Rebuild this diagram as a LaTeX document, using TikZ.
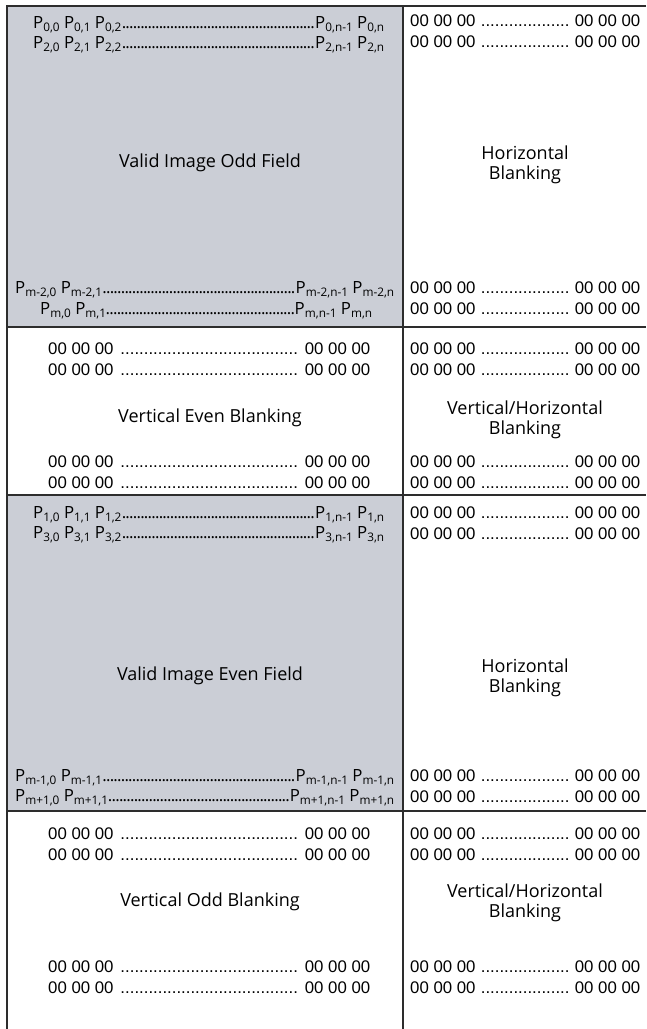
\documentclass[tikz,border=0pt]{standalone}
\usepackage{fontspec}
\setmainfont{Open Sans}
\newfontfamily\arialf{Liberation Sans}
\definecolor{fieldgray}{RGB}{203,206,214}
\definecolor{rulecol}{RGB}{45,45,45}
\newcommand{\Pix}[1]{P\raisebox{-0.42ex}{\fontsize{11.8}{11.8}\selectfont #1}}
\newcommand{\myleaders}{\cleaders\hbox to 3.7pt{\hss.\hss}\hfill}
\newcommand{\zeroleaders}{\cleaders\hbox{.}\hfill}
\newcommand{\leadline}[3]{\hbox to #1{#2\myleaders #3}}
\newcommand{\zeroline}[1]{\hbox to #1{00 00 00 \zeroleaders\ 00 00 00}}
\begin{document}
\begin{tikzpicture}[x=1pt,y=-1pt,
  txt/.style={inner sep=0pt,font=\fontsize{18}{20.5}\selectfont},
  lrow/.style={inner sep=0pt,anchor=base west,font=\fontsize{16.8}{20}\selectfont},
  rrow/.style={inner sep=0pt,anchor=base west,font=\arialf\fontsize{16.8}{20}\selectfont},
  lbl/.style={txt,align=center},
  rule/.style={draw=rulecol,line width=1.2pt}]
\useasboundingbox (0,0) rectangle (646,1029);
\fill[fieldgray] (7,6) rectangle (403,327);
\fill[fieldgray] (7,495) rectangle (403,811);
\draw[rule] (646,6) -- (7,6) -- (7,1029);
\draw[rule] (403,6) -- (403,1029);
\draw[rule] (7,327) -- (646,327);
\draw[rule] (7,495) -- (646,495);
\draw[rule] (7,811) -- (646,811);
% Row 1
\node[lrow] (p0) at (33,28) {\leadline{351pt}{\Pix{0,0} \Pix{0,1} \Pix{0,2}}{\Pix{0,n-1} \Pix{0,n}}};
\node[lrow] (p2) at (33,48) {\leadline{351pt}{\Pix{2,0} \Pix{2,1} \Pix{2,2}}{\Pix{2,n-1} \Pix{2,n}}};
\node[lbl] (oddfield) at (210,163) {Valid Image Odd Field};
\node[lrow] (pm2) at (15,293) {\leadline{379pt}{\Pix{m-2,0} \Pix{m-2,1}}{\Pix{m-2,n-1} \Pix{m-2,n}}};
\node[lrow] (pm) at (40,314) {\leadline{332pt}{\Pix{m,0} \Pix{m,1}}{\Pix{m,n-1} \Pix{m,n}}};
\node[rrow] (r1a) at (410,26) {\zeroline{230pt}};
\node[rrow] (r1b) at (410,47) {\zeroline{230pt}};
\node[lbl] (hb1) at (525,165) {Horizontal\\Blanking};
\node[rrow] (r1c) at (410,293) {\zeroline{230pt}};
\node[rrow] (r1d) at (410,314) {\zeroline{230pt}};
% Row 2
\node[rrow] (l2a) at (48,354) {\zeroline{322pt}};
\node[rrow] (l2b) at (48,375) {\zeroline{322pt}};
\node[lbl] (veven) at (210,418) {Vertical Even Blanking};
\node[rrow] (l2c) at (48,467) {\zeroline{322pt}};
\node[rrow] (l2d) at (48,488) {\zeroline{322pt}};
\node[rrow] (r2a) at (410,354) {\zeroline{230pt}};
\node[rrow] (r2b) at (410,375) {\zeroline{230pt}};
\node[lbl] (vhb1) at (525,420) {Vertical/Horizontal\\Blanking};
\node[rrow] (r2c) at (410,467) {\zeroline{230pt}};
\node[rrow] (r2d) at (410,488) {\zeroline{230pt}};
% Row 3
\node[lrow] (p1) at (33,518) {\leadline{351pt}{\Pix{1,0} \Pix{1,1} \Pix{1,2}}{\Pix{1,n-1} \Pix{1,n}}};
\node[lrow] (p3) at (33,538) {\leadline{351pt}{\Pix{3,0} \Pix{3,1} \Pix{3,2}}{\Pix{3,n-1} \Pix{3,n}}};
\node[lbl] (evenfield) at (210,676) {Valid Image Even Field};
\node[lrow] (pm1) at (15,781) {\leadline{379pt}{\Pix{m-1,0} \Pix{m-1,1}}{\Pix{m-1,n-1} \Pix{m-1,n}}};
\node[lrow] (pmp1) at (15,801) {\leadline{379pt}{\Pix{m+1,0} \Pix{m+1,1}}{\Pix{m+1,n-1} \Pix{m+1,n}}};
\node[rrow] (r3a) at (410,518) {\zeroline{230pt}};
\node[rrow] (r3b) at (410,539) {\zeroline{230pt}};
\node[lbl] (hb2) at (525,678) {Horizontal\\Blanking};
\node[rrow] (r3c) at (410,781) {\zeroline{230pt}};
\node[rrow] (r3d) at (410,802) {\zeroline{230pt}};
% Row 4
\node[rrow] (l4a) at (48,839) {\zeroline{322pt}};
\node[rrow] (l4b) at (48,860) {\zeroline{322pt}};
\node[lbl] (vodd) at (210,902) {Vertical Odd Blanking};
\node[rrow] (l4c) at (48,972) {\zeroline{322pt}};
\node[rrow] (l4d) at (48,993) {\zeroline{322pt}};
\node[rrow] (r4a) at (410,839) {\zeroline{230pt}};
\node[rrow] (r4b) at (410,860) {\zeroline{230pt}};
\node[lbl] (vhb2) at (525,903) {Vertical/Horizontal\\Blanking};
\node[rrow] (r4c) at (410,972) {\zeroline{230pt}};
\node[rrow] (r4d) at (410,993) {\zeroline{230pt}};
\end{tikzpicture}
\end{document}
